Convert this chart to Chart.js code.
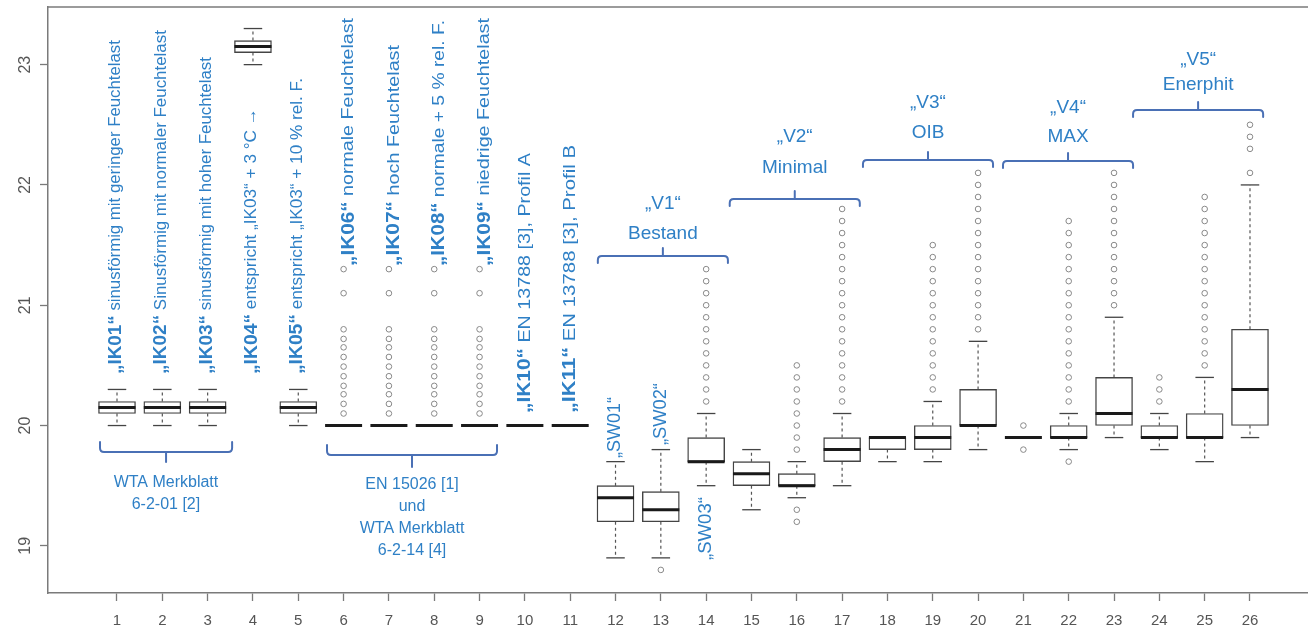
<!DOCTYPE html>
<html>
<head>
<meta charset="utf-8">
<script src="https://cdn.jsdelivr.net/npm/chart.js@4.4.1/dist/chart.umd.min.js"></script>
<style>
  html, body { margin: 0; padding: 0; background: #fff; overflow: hidden; }
  #wrap { width: 1308px; height: 630px; }
</style>
</head>
<body>
<div id="wrap"><canvas id="boxChart" width="1308" height="630"></canvas></div>
<script>
// Raumlufttemperatur je Variante (Boxplot-Kennwerte)
const cases = [1, 2, 3, 4, 5, 6, 7, 8, 9, 10, 11, 12, 13, 14, 15, 16, 17, 18, 19, 20, 21, 22, 23, 24, 25, 26];
const whiskerLow  = [20.0, 20.0, 20.0, 23.0, 20.0, 20.0, 20.0, 20.0, 20.0, 20.0, 20.0, 18.9, 18.9, 19.5, 19.3, 19.4, 19.5, 19.7, 19.7, 19.8, 19.9, 19.8, 19.9, 19.8, 19.7, 19.9];
const quartile1   = [20.1, 20.1, 20.1, 23.1, 20.1, 20.0, 20.0, 20.0, 20.0, 20.0, 20.0, 19.2, 19.2, 19.7, 19.5, 19.5, 19.7, 19.8, 19.8, 20.0, 19.9, 19.9, 20.0, 19.9, 19.9, 20.0];
const medians     = [20.15, 20.15, 20.15, 23.15, 20.15, 20.0, 20.0, 20.0, 20.0, 20.0, 20.0, 19.4, 19.3, 19.7, 19.6, 19.5, 19.8, 19.9, 19.9, 20.0, 19.9, 19.9, 20.1, 19.9, 19.9, 20.3];
const quartile3   = [20.2, 20.2, 20.2, 23.2, 20.2, 20.0, 20.0, 20.0, 20.0, 20.0, 20.0, 19.5, 19.45, 19.9, 19.7, 19.6, 19.9, 19.9, 20.0, 20.3, 19.9, 20.0, 20.4, 20.0, 20.1, 20.8];
const whiskerHigh = [20.3, 20.3, 20.3, 23.3, 20.3, 20.0, 20.0, 20.0, 20.0, 20.0, 20.0, 19.7, 19.8, 20.1, 19.8, 19.7, 20.1, 19.9, 20.2, 20.7, 19.9, 20.1, 20.9, 20.1, 20.4, 22.0];
const outliers = [
  [], [], [], [], [],
  [20.1, 20.18, 20.26, 20.33, 20.41, 20.49, 20.57, 20.65, 20.72, 20.8, 21.1, 21.3],
  [20.1, 20.18, 20.26, 20.33, 20.41, 20.49, 20.57, 20.65, 20.72, 20.8, 21.1, 21.3],
  [20.1, 20.18, 20.26, 20.33, 20.41, 20.49, 20.57, 20.65, 20.72, 20.8, 21.1, 21.3],
  [20.1, 20.18, 20.26, 20.33, 20.41, 20.49, 20.57, 20.65, 20.72, 20.8, 21.1, 21.3],
  [], [], [],
  [18.8],
  [20.2, 20.3, 20.4, 20.5, 20.6, 20.7, 20.8, 20.9, 21.0, 21.1, 21.2, 21.3],
  [],
  [19.2, 19.3, 19.8, 19.9, 20.0, 20.1, 20.2, 20.3, 20.4, 20.5],
  [20.2, 20.3, 20.4, 20.5, 20.6, 20.7, 20.8, 20.9, 21.0, 21.1, 21.2, 21.3, 21.4, 21.5, 21.6, 21.7, 21.8],
  [],
  [20.3, 20.4, 20.5, 20.6, 20.7, 20.8, 20.9, 21.0, 21.1, 21.2, 21.3, 21.4, 21.5],
  [20.8, 20.9, 21.0, 21.1, 21.2, 21.3, 21.4, 21.5, 21.6, 21.7, 21.8, 21.9, 22.0, 22.1],
  [19.8, 20.0],
  [19.7, 20.2, 20.3, 20.4, 20.5, 20.6, 20.7, 20.8, 20.9, 21.0, 21.1, 21.2, 21.3, 21.4, 21.5, 21.6, 21.7],
  [21.0, 21.1, 21.2, 21.3, 21.4, 21.5, 21.6, 21.7, 21.8, 21.9, 22.0, 22.1],
  [20.2, 20.3, 20.4],
  [20.5, 20.6, 20.7, 20.8, 20.9, 21.0, 21.1, 21.2, 21.3, 21.4, 21.5, 21.6, 21.7, 21.8, 21.9],
  [22.1, 22.3, 22.4, 22.5]
];
const xTicks = cases;
const yTicks = [19, 20, 21, 22, 23];

// Beschriftungen der Varianten
const caseNames = ["„IK01“", "„IK02“", "„IK03“", "„IK04“", "„IK05“", "„IK06“", "„IK07“", "„IK08“", "„IK09“", "„IK10“", "„IK11“"];
const caseNotes = [
  " sinusförmig mit geringer Feuchtelast",
  " Sinusförmig mit normaler Feuchtelast",
  " sinusförmig mit hoher Feuchtelast",
  " entspricht „IK03“ + 3 °C →",
  " entspricht „IK03“ + 10 % rel. F.",
  " normale Feuchtelast",
  " hoch Feuchtelast",
  " normale + 5 % rel. F.",
  " niedrige Feuchtelast",
  " EN 13788 [3], Profil A",
  " EN 13788 [3], Profil B"
];
const wallNames = ["„SW01“", "„SW02“", "„SW03“"];

const BLUE = '#2f80c6';
const BRACE = '#4a70b5';
const AXIS = '#7a7a7a';
const FONT = '"Liberation Sans", Arial, sans-serif';

// senkrechte Texte: Fusspunkt und Ende in Achsenwerten
const verticalLabels = [
  { x: 1, from: 20.428, to: 23.204, dx: -1, bold: 18, size: 16 },
  { x: 2, from: 20.428, to: 23.287, dx: -1, bold: 18, size: 16 },
  { x: 3, from: 20.428, to: 23.063, dx: -1, bold: 18, size: 16 },
  { x: 4, from: 20.428, to: 22.639, dx: -1, bold: 18, size: 16 },
  { x: 5, from: 20.428, to: 22.888, dx: -1, bold: 18, size: 16 },
  { x: 6, from: 21.326, to: 23.387, dx: 5, bold: 18, size: 17 },
  { x: 7, from: 21.326, to: 23.163, dx: 5, bold: 18, size: 17 },
  { x: 8, from: 21.326, to: 23.371, dx: 5, bold: 18, size: 17 },
  { x: 9, from: 21.326, to: 23.387, dx: 5, bold: 18, size: 17 },
  { x: 10, from: 20.104, to: 22.265, dx: 0, bold: 18, size: 17 },
  { x: 11, from: 20.104, to: 22.332, dx: 0, bold: 18, size: 17 }
];
const wallLabels = [
  { x: 12, from: 19.73, to: 20.237 },
  { x: 13, from: 19.838, to: 20.353 },
  { x: 14, from: 18.882, to: 19.406 }
];

// geschweifte Klammern: open 'up' = Enden nach oben, Mitte nach unten
const braces = [
  { from: 0.625, to: 3.54, at: 19.78, open: 'up', hook: 10, tick: 10 },
  { from: 5.634, to: 9.385, at: 19.755, open: 'up', hook: 10, tick: 12 },
  { from: 11.61, to: 14.48, at: 21.409, open: 'down', hook: 7, tick: 8 },
  { from: 14.52, to: 17.39, at: 21.883, open: 'down', hook: 7, tick: 8 },
  { from: 17.46, to: 20.33, at: 22.207, open: 'down', hook: 7, tick: 8 },
  { from: 20.55, to: 23.42, at: 22.199, open: 'down', hook: 7, tick: 8 },
  { from: 23.42, to: 26.29, at: 22.623, open: 'down', hook: 7, tick: 8 }
];
const groupTexts = [
  { x: 2.08, size: 16, lines: [["WTA Merkblatt", 19.522], ["6-2-01 [2]", 19.339]] },
  { x: 7.51, size: 16, lines: [["EN 15026 [1]", 19.505], ["und", 19.323], ["WTA Merkblatt", 19.14], ["6-2-14 [4]", 18.957]] },
  { x: 13.045, size: 19, lines: [["„V1“", 21.84], ["Bestand", 21.59]] },
  { x: 15.955, size: 19, lines: [["„V2“", 22.398], ["Minimal", 22.14]] },
  { x: 18.895, size: 19, lines: [["„V3“", 22.681], ["OIB", 22.432]] },
  { x: 21.985, size: 19, lines: [["„V4“", 22.64], ["MAX", 22.398]] },
  { x: 24.855, size: 19, lines: [["„V5“", 23.04], ["Enerphit", 22.83]] }
];

const boxData = [], medianData = [], capData = [], whiskerData = [], outlierData = [];
cases.forEach((c, i) => {
  if (quartile3[i] > quartile1[i]) boxData.push({ x: c, y: [quartile1[i], quartile3[i]] });
  medianData.push({ x: c, y: medians[i] });
  if (whiskerHigh[i] > whiskerLow[i]) capData.push({ x: c, y: whiskerLow[i] }, { x: c, y: whiskerHigh[i] });
  if (quartile1[i] > whiskerLow[i]) whiskerData.push({ x: c, y: quartile1[i] }, { x: c, y: whiskerLow[i] }, { x: c, y: null });
  if (whiskerHigh[i] > quartile3[i]) whiskerData.push({ x: c, y: quartile3[i] }, { x: c, y: whiskerHigh[i] }, { x: c, y: null });
  outliers[i].forEach(v => outlierData.push({ x: c, y: v }));
});

function drawBrace(ctx, x1, x2, y, b) {
  const s = b.open === 'up' ? -1 : 1;
  const r = 4;
  const xc = (x1 + x2) / 2;
  ctx.beginPath();
  ctx.moveTo(x1, y + s * b.hook);
  ctx.lineTo(x1, y + s * r);
  ctx.quadraticCurveTo(x1, y, x1 + r, y);
  ctx.lineTo(x2 - r, y);
  ctx.quadraticCurveTo(x2, y, x2, y + s * r);
  ctx.lineTo(x2, y + s * b.hook);
  ctx.moveTo(xc, y);
  ctx.lineTo(xc, y - s * b.tick);
  ctx.stroke();
}

// senkrechter Text, auf die Länge zwischen from und to gebracht
function drawVertical(ctx, px, pyFrom, pyTo, parts) {
  let total = 0;
  parts.forEach(p => { ctx.font = p.font; p.w = ctx.measureText(p.text).width; total += p.w; });
  const k = (pyFrom - pyTo) / total;
  ctx.save();
  ctx.translate(px, pyFrom);
  ctx.rotate(-Math.PI / 2);
  ctx.scale(k, 1);
  ctx.textAlign = 'left';
  ctx.textBaseline = 'middle';
  let off = 0;
  parts.forEach(p => { ctx.font = p.font; ctx.fillText(p.text, off, 0); off += p.w; });
  ctx.restore();
}

const annotate = {
  id: 'annotate',
  afterDatasetsDraw(chart) {
    const { ctx, chartArea: a, scales: { x, y } } = chart;
    ctx.save();

    // oberer Rahmen
    ctx.strokeStyle = AXIS;
    ctx.lineWidth = 1.5;
    ctx.beginPath();
    ctx.moveTo(a.left, a.top);
    ctx.lineTo(a.right, a.top);
    ctx.stroke();

    // y-Beschriftung, gedreht
    ctx.fillStyle = '#555';
    ctx.font = '16px ' + FONT;
    yTicks.forEach(v => {
      ctx.save();
      ctx.translate(26, y.getPixelForValue(v));
      ctx.rotate(-Math.PI / 2);
      ctx.textAlign = 'center';
      ctx.textBaseline = 'middle';
      ctx.fillText(String(v), 0, 0);
      ctx.restore();
    });

    // Klammern
    ctx.strokeStyle = BRACE;
    ctx.lineWidth = 2;
    ctx.lineCap = 'round';
    braces.forEach(b => drawBrace(ctx, x.getPixelForValue(b.from), x.getPixelForValue(b.to), y.getPixelForValue(b.at), b));

    // Gruppentexte
    ctx.fillStyle = BLUE;
    ctx.textAlign = 'center';
    ctx.textBaseline = 'middle';
    groupTexts.forEach(g => {
      ctx.font = g.size + 'px ' + FONT;
      g.lines.forEach(([t, v]) => ctx.fillText(t, x.getPixelForValue(g.x), y.getPixelForValue(v)));
    });

    // Variantenbeschriftung
    verticalLabels.forEach((l, i) => {
      drawVertical(ctx, x.getPixelForValue(l.x) + l.dx, y.getPixelForValue(l.from), y.getPixelForValue(l.to), [
        { text: caseNames[i], font: 'bold ' + l.bold + 'px ' + FONT },
        { text: caseNotes[i], font: l.size + 'px ' + FONT }
      ]);
    });
    wallLabels.forEach((l, i) => {
      drawVertical(ctx, x.getPixelForValue(l.x), y.getPixelForValue(l.from), y.getPixelForValue(l.to), [
        { text: wallNames[i], font: '18px ' + FONT }
      ]);
    });

    ctx.restore();
  }
};

// Achsenpolster auf null, damit die Zeichenfläche fest liegt
function fixX(s) {
  s.height = 37;
  s.paddingTop = s.paddingBottom = s.paddingLeft = s.paddingRight = 0;
}
function fixY(s) {
  s.width = 48;
  s.paddingTop = s.paddingBottom = s.paddingLeft = s.paddingRight = 0;
}

Chart.defaults.font.family = FONT;

new Chart(document.getElementById('boxChart'), {
  type: 'bar',
  data: {
    datasets: [
      {
        type: 'line', data: whiskerData, borderColor: '#555', borderWidth: 1.2,
        borderDash: [3, 3], pointRadius: 0, spanGaps: false, order: 5
      },
      {
        type: 'bar', data: boxData, backgroundColor: '#fff', borderColor: '#444',
        borderWidth: 1.4, borderSkipped: false, barThickness: 37, order: 4
      },
      {
        type: 'scatter', data: capData, pointStyle: 'line', pointRadius: 9.25,
        borderColor: '#444', borderWidth: 1.3, order: 3
      },
      {
        type: 'scatter', data: medianData, pointStyle: 'line', pointRadius: 18.5,
        borderColor: '#1a1a1a', borderWidth: 3, order: 2
      },
      {
        type: 'scatter', data: outlierData, pointStyle: 'circle', pointRadius: 2.8,
        borderColor: '#888', backgroundColor: 'rgba(0,0,0,0)', borderWidth: 1, order: 1
      }
    ]
  },
  options: {
    responsive: false,
    animation: false,
    events: [],
    layout: { padding: { top: 7, right: 0, left: 0, bottom: 0 }, autoPadding: false },
    plugins: { legend: { display: false }, tooltip: { enabled: false } },
    scales: {
      x: {
        type: 'linear', min: -0.5225, max: 27.28, offset: false,
        afterBuildTicks: s => { s.ticks = xTicks.map(v => ({ value: v })); },
        afterFit: fixX,
        ticks: { autoSkip: false, maxRotation: 0, color: '#555', font: { size: 15 }, padding: 11 },
        grid: { offset: false, drawOnChartArea: false, drawTicks: true, tickLength: 8, tickColor: AXIS, tickWidth: 1.3 },
        border: { display: true, color: AXIS, width: 1.5 }
      },
      y: {
        type: 'linear', min: 18.608, max: 23.479,
        afterBuildTicks: s => { s.ticks = yTicks.map(v => ({ value: v })); },
        afterFit: fixY,
        ticks: { display: false },
        grid: { drawOnChartArea: false, drawTicks: true, tickLength: 8, tickColor: AXIS, tickWidth: 1.3 },
        border: { display: true, color: AXIS, width: 1.5 }
      }
    }
  },
  plugins: [annotate]
});
</script>
</body>
</html>
